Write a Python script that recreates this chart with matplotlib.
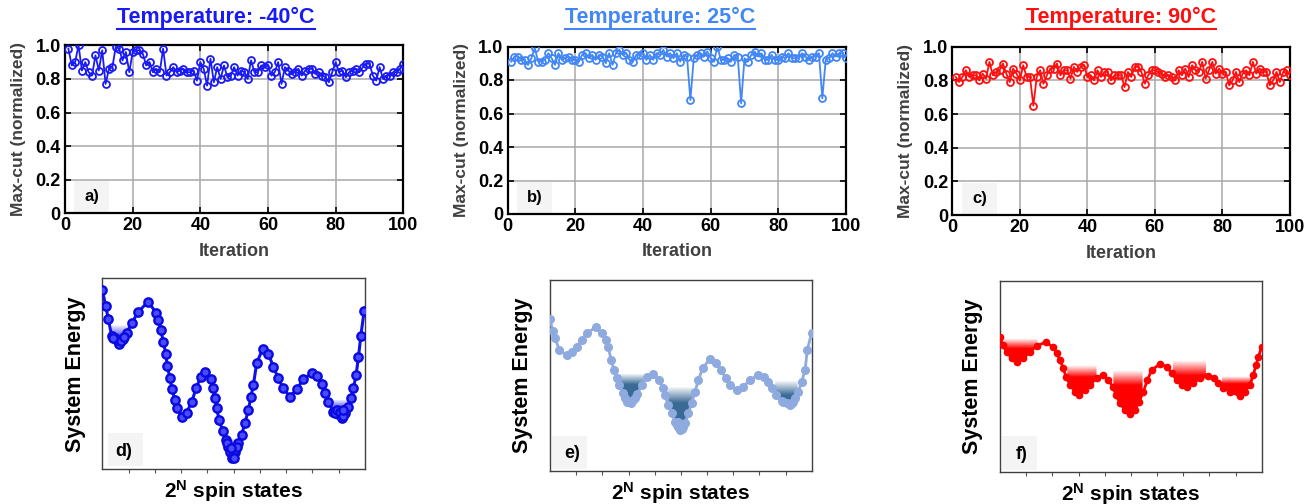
import numpy as np
import matplotlib
matplotlib.use("Agg")
import matplotlib.pyplot as plt
from matplotlib.path import Path
from matplotlib.lines import Line2D
from matplotlib.colors import to_rgb

plt.rcParams['font.family'] = ['Liberation Sans', 'DejaVu Sans']
plt.rcParams['font.weight'] = 'bold'
plt.rcParams['axes.labelweight'] = 'bold'
plt.rcParams['mathtext.fontset'] = 'custom'
plt.rcParams['mathtext.rm'] = 'Liberation Sans:bold'
plt.rcParams['mathtext.bf'] = 'Liberation Sans:bold'

# ---- top row: max-cut per iteration ----
iterations = np.arange(1, 101)

maxcut_m40 = [0.98, 0.88, 0.90, 1.00, 0.85, 0.90, 0.84, 0.82, 0.94, 0.85,
              0.97, 0.77, 0.86, 0.87, 0.99, 0.98, 0.91, 0.96, 0.84, 0.96,
              0.97, 0.97, 0.95, 0.88, 0.90, 0.84, 0.86, 0.84, 0.98, 0.82,
              0.84, 0.87, 0.84, 0.85, 0.86, 0.84, 0.84, 0.85, 0.79, 0.90,
              0.86, 0.76, 0.92, 0.78, 0.87, 0.80, 0.88, 0.81, 0.82, 0.87,
              0.82, 0.85, 0.84, 0.80, 0.91, 0.84, 0.84, 0.88, 0.87, 0.88,
              0.82, 0.84, 0.90, 0.77, 0.87, 0.85, 0.83, 0.84, 0.86, 0.82,
              0.85, 0.86, 0.86, 0.83, 0.84, 0.82, 0.81, 0.78, 0.84, 0.90,
              0.84, 0.85, 0.81, 0.84, 0.85, 0.86, 0.84, 0.87, 0.89, 0.89,
              0.82, 0.79, 0.87, 0.80, 0.82, 0.82, 0.84, 0.84, 0.86, 0.89]

maxcut_25 = [0.91, 0.94, 0.94, 0.92, 0.92, 0.89, 0.93, 0.99, 0.91, 0.91,
             0.92, 0.96, 0.93, 0.89, 0.96, 0.92, 0.93, 0.94, 0.92, 0.92,
             0.91, 0.95, 0.96, 0.93, 0.95, 0.92, 0.95, 0.94, 0.90, 0.96,
             0.89, 0.96, 0.98, 0.95, 0.96, 0.92, 0.91, 0.95, 0.95, 0.96,
             0.92, 0.95, 0.92, 0.96, 0.95, 0.98, 0.94, 0.96, 0.93, 0.96,
             0.91, 0.95, 0.94, 0.68, 0.93, 0.95, 0.96, 0.94, 0.97, 0.93,
             0.91, 1.00, 0.92, 0.92, 0.93, 0.91, 0.95, 0.94, 0.66, 0.93,
             0.91, 0.95, 0.97, 0.94, 0.96, 0.92, 0.92, 0.95, 0.92, 0.92,
             0.94, 0.93, 0.96, 0.93, 0.93, 0.93, 0.96, 0.94, 0.92, 0.94,
             0.94, 0.96, 0.69, 0.92, 0.93, 0.96, 0.94, 0.96, 0.96, 0.93]

maxcut_90 = [0.82, 0.79, 0.82, 0.86, 0.82, 0.83, 0.83, 0.80, 0.84, 0.81,
             0.91, 0.83, 0.85, 0.86, 0.90, 0.84, 0.79, 0.87, 0.84, 0.80,
             0.89, 0.82, 0.82, 0.65, 0.82, 0.86, 0.78, 0.83, 0.87, 0.87,
             0.90, 0.83, 0.86, 0.86, 0.81, 0.88, 0.85, 0.88, 0.89, 0.82,
             0.83, 0.80, 0.86, 0.82, 0.85, 0.85, 0.80, 0.83, 0.83, 0.83,
             0.76, 0.85, 0.82, 0.88, 0.88, 0.85, 0.78, 0.83, 0.86, 0.86,
             0.85, 0.84, 0.82, 0.83, 0.82, 0.80, 0.86, 0.83, 0.87, 0.82,
             0.89, 0.86, 0.85, 0.91, 0.81, 0.86, 0.91, 0.84, 0.87, 0.84,
             0.85, 0.77, 0.80, 0.85, 0.79, 0.84, 0.86, 0.83, 0.91, 0.84,
             0.87, 0.85, 0.85, 0.77, 0.80, 0.85, 0.79, 0.85, 0.86, 0.83]

titles = ['Temperature: -40°C', 'Temperature: 25°C', 'Temperature: 90°C']
title_x = [216, 660, 1121]
colors = ['#1a1af5', '#4287f5', '#ff0f0f']
top_tags = ['a)', 'b)', 'c)']

# ---- bottom row: energy landscapes (state index 0..100, energy 0..1) ----
d_x = [0.0, 1.27, 2.28, 3.55, 4.82, 6.47, 8.0, 9.26, 11.17, 13.7, 17.5, 20.4,
       21.3, 22.3, 23.2, 24.2, 24.7, 25.8, 26.5, 27.7, 28.3, 30.2, 32.1, 34.0,
       35.7, 37.4, 39.1, 41.2, 42.0, 42.9, 43.5, 44.5, 45.8, 47.0, 48.0, 49.2,
       50.5, 51.8, 53.0, 54.3, 55.6, 56.6, 57.5, 58.8, 61.0, 63.2, 65.1, 67.0,
       68.9, 71.4, 74.0, 76.5, 79.7, 81.6, 83.5, 84.8, 86.0, 87.9, 89.8, 91.1,
       92.4, 93.7, 94.7, 95.6, 96.6, 97.5, 98.4, 99.7]
d_y = [0.939, 0.857, 0.787, 0.700, 0.686, 0.656, 0.681, 0.712, 0.764, 0.825,
       0.878, 0.820, 0.782, 0.729, 0.668, 0.604, 0.541, 0.476, 0.419, 0.363,
       0.323, 0.276, 0.297, 0.351, 0.424, 0.482, 0.511, 0.471, 0.424, 0.372,
       0.319, 0.258, 0.202, 0.154, 0.119, 0.058, 0.092, 0.136, 0.180, 0.241,
       0.311, 0.380, 0.442, 0.558, 0.628, 0.604, 0.538, 0.476, 0.424, 0.380,
       0.419, 0.471, 0.503, 0.489, 0.447, 0.398, 0.354, 0.302, 0.290, 0.267,
       0.293, 0.328, 0.372, 0.424, 0.494, 0.586, 0.698, 0.831]
d_cluster_x = [5.46, 7.11, 8.25, 4.19, 47.3, 48.6, 49.6, 50.6, 51.1, 48.9, 50.1,
               88.6, 89.2, 90.5, 91.8, 91.5]
d_cluster_y = [0.677, 0.674, 0.695, 0.689, 0.136, 0.092, 0.075, 0.101, 0.119,
               0.110, 0.058, 0.293, 0.311, 0.302, 0.279, 0.311]

e_x = [0.0, 1.02, 1.91, 3.57, 6.37, 8.28, 10.19, 12.1, 14.0, 17.45, 20.0, 21.4,
       22.3, 23.3, 24.5, 25.5, 26.5, 27.8, 29.9, 31.8, 33.4, 35.0, 36.9, 39.5,
       41.8, 43.1, 43.9, 45.2, 46.5, 47.8, 49.7, 51.6, 52.9, 54.1, 55.4, 56.7,
       58.3, 61.1, 63.4, 65.2, 67.3, 68.8, 71.3, 73.9, 76.4, 79.6, 81.8, 83.4,
       84.7, 86.2, 88.5, 91.7, 93.6, 94.9, 96.2, 97.5, 98.3, 100.0]
e_y = [0.794, 0.735, 0.695, 0.634, 0.607, 0.621, 0.651, 0.686, 0.721, 0.752,
       0.721, 0.686, 0.651, 0.581, 0.529, 0.485, 0.450, 0.407, 0.363, 0.372,
       0.403, 0.450, 0.490, 0.506, 0.476, 0.433, 0.398, 0.346, 0.302, 0.258,
       0.215, 0.250, 0.302, 0.354, 0.415, 0.476, 0.538, 0.586, 0.567, 0.529,
       0.485, 0.450, 0.424, 0.442, 0.476, 0.503, 0.490, 0.468, 0.433, 0.398,
       0.368, 0.346, 0.380, 0.415, 0.468, 0.529, 0.634, 0.724]
e_cluster_x = [28.7, 30.8, 32.5, 29.3, 48.4, 49.0, 50.3, 51.0, 49.0,
               89.2, 90.4, 92.4, 93.0]
e_cluster_y = [0.380, 0.358, 0.380, 0.363, 0.241, 0.232, 0.218, 0.232, 0.258,
               0.363, 0.354, 0.354, 0.363]

f_x = [0.0, 1.02, 2.55, 4.46, 6.37, 8.92, 11.5, 14.0, 17.45, 20.4, 21.7, 22.9,
       24.2, 25.2, 26.8, 28.7, 30.3, 32.5, 34.4, 36.9, 39.5, 41.4, 43.1, 44.3,
       45.9, 47.8, 49.7, 51.6, 53.2, 54.8, 56.3, 58.0, 61.1, 63.7, 65.6, 67.5,
       69.4, 71.3, 73.9, 76.4, 79.6, 81.8, 83.4, 85.4, 87.9, 91.7, 93.6, 95.5,
       96.8, 97.8, 98.7, 100.0]
f_y = [0.708, 0.664, 0.629, 0.594, 0.577, 0.594, 0.629, 0.659, 0.680, 0.652,
       0.621, 0.586, 0.542, 0.498, 0.455, 0.420, 0.402, 0.428, 0.455, 0.490,
       0.507, 0.481, 0.446, 0.402, 0.358, 0.323, 0.302, 0.323, 0.367, 0.420,
       0.481, 0.533, 0.565, 0.551, 0.516, 0.481, 0.455, 0.446, 0.463, 0.490,
       0.502, 0.490, 0.463, 0.437, 0.420, 0.397, 0.420, 0.455, 0.507, 0.559,
       0.600, 0.656]

# wells: (x0, x1, solid level, top level)
d_wells = [(3.6, 10.5, 0.68, 0.756), (45.8, 53.4, 0.12, 0.162), (86.0, 94.3, 0.31, 0.363)]
e_wells = [(26.1, 35.7, 0.45, 0.508), (45.2, 54.5, 0.354, 0.44), (86.0, 94.6, 0.398, 0.476)]
f_wells = [(1.3, 14.3, 0.647, 0.70), (25.7, 36.9, 0.498, 0.56), (43.3, 54.5, 0.455, 0.533),
           (66.0, 78.7, 0.507, 0.586), (84.7, 96.2, 0.463, 0.502)]

fig = plt.figure(figsize=(13.15, 5.04), dpi=100)
W, H = 1315, 504


def px_axes(l, t, r, b):
    return fig.add_axes([l / W, 1 - b / H, (r - l) / W, (b - t) / H])


top_boxes = [(65, 45.3, 403.3, 213.3), (507.7, 46.5, 846, 214), (952.3, 46.7, 1290, 215)]
series = [maxcut_m40, maxcut_25, maxcut_90]
title_texts = []

for i in range(3):
    ax = px_axes(*top_boxes[i])
    ax.plot(iterations, series[i], '-o', color=colors[i], lw=1.3, ms=5,
            mfc='none', mew=1.3, zorder=3)
    ax.set_xlim(0, 100)
    ax.set_ylim(0, 1.0)
    ax.set_xticks([0, 20, 40, 60, 80, 100])
    ax.set_yticks([0, 0.2, 0.4, 0.6, 0.8, 1.0])
    ax.set_yticklabels(['0', '0.2', '0.4', '0.6', '0.8', '1.0'])
    ax.grid(True, color='#a8a8a8', lw=1.1)
    ax.tick_params(direction='in', length=4, width=1.2, labelsize=13,
                   right=True, top=True, pad=3)
    for s in ax.spines.values():
        s.set_linewidth(1.6)
    ax.set_ylabel('Max-cut (normalized)', fontsize=12.5, color='#404040', labelpad=7)
    ax.set_xlabel('Iteration', fontsize=13, color='#404040', labelpad=6)
    ax.add_patch(plt.Rectangle((0.028, 0.006), 0.103, 0.185, transform=ax.transAxes,
                               facecolor='#f4f4f4', edgecolor='none', zorder=1))
    ax.text(0.08, 0.1, top_tags[i], transform=ax.transAxes, fontsize=12,
            ha='center', va='center', zorder=2)
    title_texts.append(fig.text(title_x[i] / W, 1 - 17 / H, titles[i], color=colors[i],
                                fontsize=15.5, ha='center', va='center'))


def draw_wells(ax, xs, ys, wells, color):
    xs = np.asarray(xs)
    ys = np.asarray(ys)
    rgb = to_rgb(color)
    n = 200
    for x0, x1, ysol, ytop in wells:
        lev = np.linspace(0, ytop, n)
        alpha = np.clip((ytop - lev) / (ytop - ysol), 0, 1)
        img = np.zeros((n, 1, 4))
        img[:, 0, :3] = rgb
        img[:, 0, 3] = alpha
        im = ax.imshow(img, extent=[x0, x1, 0, ytop], origin='lower',
                       aspect='auto', interpolation='bilinear', zorder=1)
        inside = (xs > x0) & (xs < x1)
        cx = np.concatenate([[x0], xs[inside], [x1]])
        cy = np.concatenate([[np.interp(x0, xs, ys)], ys[inside], [np.interp(x1, xs, ys)]])
        cy = np.minimum(cy, ytop)
        verts = [(x0, ytop)] + list(zip(cx, cy)) + [(x1, ytop), (x0, ytop)]
        im.set_clip_path(Path(verts), transform=ax.transData)


bot_boxes = [(102.3, 278.3, 365, 469.3), (550, 280, 811.7, 471), (1000, 281, 1261.7, 471.7)]
bot_tags = ['d)', 'e)', 'f)']
tag_box = [(0.023, 0.017), (0.008, 0.01), (0.008, 0.01)]

ax_d = px_axes(*bot_boxes[0])
draw_wells(ax_d, d_x, d_y, d_wells, '#2a2aff')
ax_d.plot(d_x, d_y, '-o', color='#1010ee', lw=2.2, ms=6, mfc='#4a4aff',
          mec='#0a0ae0', mew=1.7, zorder=3)
ax_d.plot(d_cluster_x, d_cluster_y, 'o', ms=6, mfc='#4a4aff', mec='#0a0ae0',
          mew=1.7, zorder=3)

ax_e = px_axes(*bot_boxes[1])
draw_wells(ax_e, e_x, e_y, e_wells, '#3a6a96')
ax_e.plot(e_x, e_y, '-o', color='#8eaadf', lw=2, ms=5.5, mfc='#8eaadf',
          mec='#8eaadf', zorder=3)
ax_e.plot(e_cluster_x, e_cluster_y, 'o', ms=5.5, color='#8eaadf', zorder=3)

ax_f = px_axes(*bot_boxes[2])
draw_wells(ax_f, f_x, f_y, f_wells, '#ff0000')
ax_f.plot(f_x, f_y, '-o', color='#ff0000', lw=2, ms=4.5, zorder=3)

for k, ax in enumerate([ax_d, ax_e, ax_f]):
    ax.set_xlim(0, 100)
    ax.set_ylim(0, 1)
    ax.set_xticks(np.arange(10, 100, 10))
    ax.set_xticklabels([])
    ax.set_yticks([])
    ax.tick_params(axis='x', direction='out', length=3, width=0.8, color='#555555')
    for s in ax.spines.values():
        s.set_linewidth(1.0)
        s.set_color('#404040')
    ax.set_ylabel('System Energy', fontsize=15.5, labelpad=12)
    ax.text(0.5, -0.115, '$\\mathbf{2^{N}}$ spin states', transform=ax.transAxes,
            fontsize=15, ha='center', va='center')
    bx, by = tag_box[k]
    ax.add_patch(plt.Rectangle((bx, by), 0.133, 0.175, transform=ax.transAxes,
                               facecolor='#f4f4f4', edgecolor='none', zorder=0.5))
    ax.text(0.083, 0.092, bot_tags[k], transform=ax.transAxes, fontsize=13,
            ha='center', va='center', zorder=2)

# underline the titles
fig.canvas.draw()
renderer = fig.canvas.get_renderer()
for t in title_texts:
    bb = t.get_window_extent(renderer)
    yl = (bb.y0 - 1) / H
    fig.add_artist(Line2D([bb.x0 / W, bb.x1 / W], [yl, yl], color=t.get_color(), lw=1.5))

fig.savefig('out.png', dpi=100)
